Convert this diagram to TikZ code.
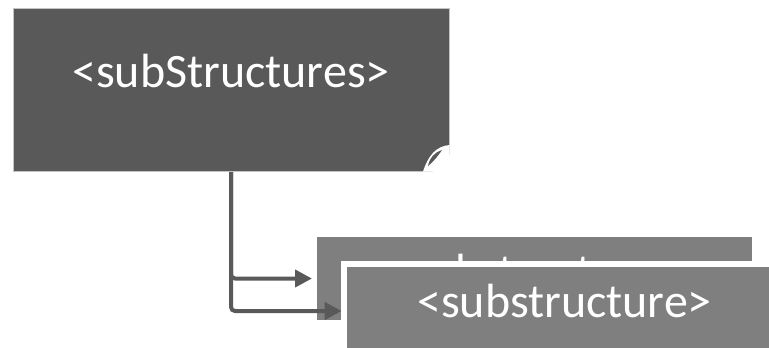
\documentclass[tikz,border=0pt]{standalone}
\usepackage{fontspec}
\setmainfont{Carlito}
\usetikzlibrary{arrows.meta}
\definecolor{darkbox}{HTML}{595959}
\definecolor{midbox}{HTML}{7F7F7F}
\definecolor{edgegray}{HTML}{C4C4C4}
\pgfdeclarelayer{bglayer}
\pgfdeclarelayer{connlayer}
\pgfsetlayers{bglayer,connlayer,main}
\tikzset{
  boxtext/.style={text=white, font=\fontsize{48}{58}\selectfont, inner sep=0pt, outer sep=0pt},
  parentbox/.style={boxtext, fill=darkbox, draw=edgegray, line width=1pt,
    minimum width=436pt, minimum height=163pt, text height=33.6pt, text depth=38.6pt},
  childbox/.style={boxtext, fill=midbox, minimum width=435pt, minimum height=83pt,
    text height=33.6pt, text depth=16.6pt},
  frontbox/.style={childbox, draw=white, line width=6pt,
    minimum width=441pt, minimum height=89pt},
  link/.style={draw=darkbox, line width=4pt, rounded corners=4pt,
    -{Triangle[length=17pt,width=17pt]}}
}
\begin{document}
\begin{tikzpicture}[x=1pt,y=-1pt]
  \useasboundingbox (0,0) rectangle (769,348);
  \clip (0,0) rectangle (769,348);

  % parent element
  \node[parentbox] (parent) at (231,89.5) {<subStructures>};
  % curled page corner
  \fill[white] (449.6,145) .. controls (436,146) and (428,156) .. (423,171.6)
    -- (450,172) -- cycle;
  \fill[darkbox] (428,166) .. controls (430,157) and (434,153) .. (442,150)
    .. controls (438,156) and (434,161) .. cycle;

  % stacked child elements
  \begin{pgfonlayer}{bglayer}
    \node[childbox] (back) at (534.5,278.5) {<substructure>};
  \end{pgfonlayer}
  \node[frontbox] (front) at (564.5,308.5) {<substructure>};

  % connectors
  \begin{pgfonlayer}{connlayer}
    \draw[link, shorten >=5pt] (parent.south) |- (back.west);
    \draw[link, shorten >=2.3pt] (parent.south) |- ([yshift=-2.5pt]front.west);
  \end{pgfonlayer}
\end{tikzpicture}
\end{document}
